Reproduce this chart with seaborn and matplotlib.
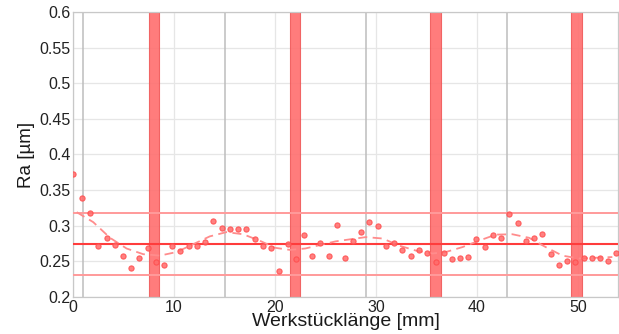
import numpy as np
import pandas as pd
import matplotlib
matplotlib.use("Agg")
import matplotlib.pyplot as plt
import seaborn as sns

# Measured roughness along the workpiece
position_mm = [0.03, 0.86, 1.68, 2.5, 3.33, 4.15, 4.94, 5.73, 6.55, 7.38, 8.2, 9.02,
               9.8, 10.64, 11.46, 12.25, 13.07, 13.9, 14.72, 15.55, 16.37, 17.16, 17.98,
               18.8, 19.63, 20.42, 21.25, 22.04, 22.86, 23.65, 24.47, 25.3, 26.1, 26.9,
               27.73, 28.55, 29.35, 30.17, 31.0, 31.82, 32.6, 33.43, 34.26, 35.08, 35.9, 36.7,
               37.52, 38.34, 39.13, 39.95, 40.78, 41.57, 42.39, 43.21, 44.04, 44.83, 45.65,
               46.47, 47.3, 48.09, 48.91, 49.73, 50.56, 51.35, 52.17, 53.0, 53.8]
ra_um = [0.373, 0.339, 0.318, 0.271, 0.283, 0.273, 0.258, 0.241, 0.255, 0.268, 0.249, 0.245,
         0.271, 0.264, 0.272, 0.272, 0.277, 0.307, 0.297, 0.295, 0.296, 0.295, 0.282,
         0.272, 0.268, 0.237, 0.274, 0.253, 0.287, 0.257, 0.276, 0.257, 0.301, 0.255,
         0.279, 0.291, 0.305, 0.300, 0.272, 0.276, 0.266, 0.257, 0.266, 0.261, 0.249, 0.262,
         0.253, 0.254, 0.256, 0.281, 0.270, 0.287, 0.283, 0.317, 0.304, 0.279, 0.283,
         0.288, 0.260, 0.245, 0.250, 0.249, 0.255, 0.255, 0.255, 0.250, 0.261]

# Smoothed trend of Ra
trend_x = [0.36, 2.0, 3.66, 5.3, 6.95, 8.6, 10.25, 11.9, 13.54, 15.19, 16.83, 18.48,
           20.0, 21.5, 23.0, 24.5, 26.0, 27.5, 29.0, 30.66, 32.3, 33.96, 35.6, 36.9,
           38.57, 40.2, 41.87, 43.5, 45.16, 46.8, 48.45, 50.1, 51.75, 53.4]
trend_y = [0.319, 0.305, 0.283, 0.268, 0.260, 0.258, 0.263, 0.274, 0.285, 0.291, 0.288, 0.279,
           0.269, 0.266, 0.268, 0.273, 0.278, 0.281, 0.284, 0.282, 0.272, 0.265, 0.261, 0.263,
           0.270, 0.279, 0.2875, 0.288, 0.283, 0.270, 0.258, 0.254, 0.255, 0.256]

# Mean and tolerance band
ra_mean = 0.274
ra_upper = 0.3175
ra_lower = 0.2305

# Clamping zones (start, width) and segment boundaries
zone_start = [7.5, 21.45, 35.35, 49.35]
zone_width = [1.05, 1.05, 1.05, 1.05]
segment_marks = [1, 15, 29, 43]

x_ticks = [0, 10, 20, 30, 40, 50]
y_ticks = [0.2, 0.25, 0.3, 0.35, 0.4, 0.45, 0.5, 0.55, 0.6]
y_ticklabels = ["0.2", "0.25", "0.3", "0.35", "0.4", "0.45", "0.5", "0.55", "0.6"]

sns.set_theme(style="whitegrid")
plt.rcParams["font.family"] = ["Liberation Sans", "DejaVu Sans"]

fig = plt.figure(figsize=(6.19, 3.34), dpi=100)
ax = fig.add_axes([0.118, 0.111, 0.881, 0.853])

ax.grid(True, color="#e6e6e6", linewidth=0.9)
ax.set_axisbelow(True)

for xm in segment_marks:
    ax.axvline(xm, color="#bdbdbd", linewidth=1.1, zorder=1)

for s, w in zip(zone_start, zone_width):
    ax.axvspan(s, s + w, facecolor="#ff6e6e", edgecolor="#f05a5a",
               linewidth=0.8, alpha=0.9, zorder=2)

ax.axhline(ra_upper, color="#ff9a9a", linewidth=1.4, zorder=3)
ax.axhline(ra_lower, color="#ff9a9a", linewidth=1.4, zorder=3)
ax.axhline(ra_mean, color="#ff3c3c", linewidth=1.5, zorder=3)

trend = pd.DataFrame({"x": trend_x, "y": trend_y})
sns.lineplot(data=trend, x="x", y="y", ax=ax, color="#ff8c8c",
             linestyle=(0, (5, 3)), linewidth=1.3, zorder=4)

pts = pd.DataFrame({"x": position_mm, "y": ra_um})
sns.scatterplot(data=pts, x="x", y="y", ax=ax, s=14, color="#ff6a6a",
                edgecolor="#ff4d4d", linewidth=0.8, alpha=0.85, zorder=5)

ax.set_xlim(0, 54)
ax.set_ylim(0.2, 0.6)
ax.set_xticks(x_ticks)
ax.set_yticks(y_ticks)
ax.set_yticklabels(y_ticklabels)
ax.tick_params(axis="both", labelsize=11.5, colors="#222222", length=0, pad=2)

ax.set_xlabel("Werkstücklänge [mm]", fontsize=14, labelpad=-1, color="#1a1a1a")
ax.set_ylabel("Ra [µm]", fontsize=13.5, labelpad=3, color="#1a1a1a")

for side in ["left", "bottom", "top", "right"]:
    ax.spines[side].set_visible(True)
    ax.spines[side].set_color("#c8c8c8")
    ax.spines[side].set_linewidth(0.9)

fig.savefig("out.png", dpi=100)
